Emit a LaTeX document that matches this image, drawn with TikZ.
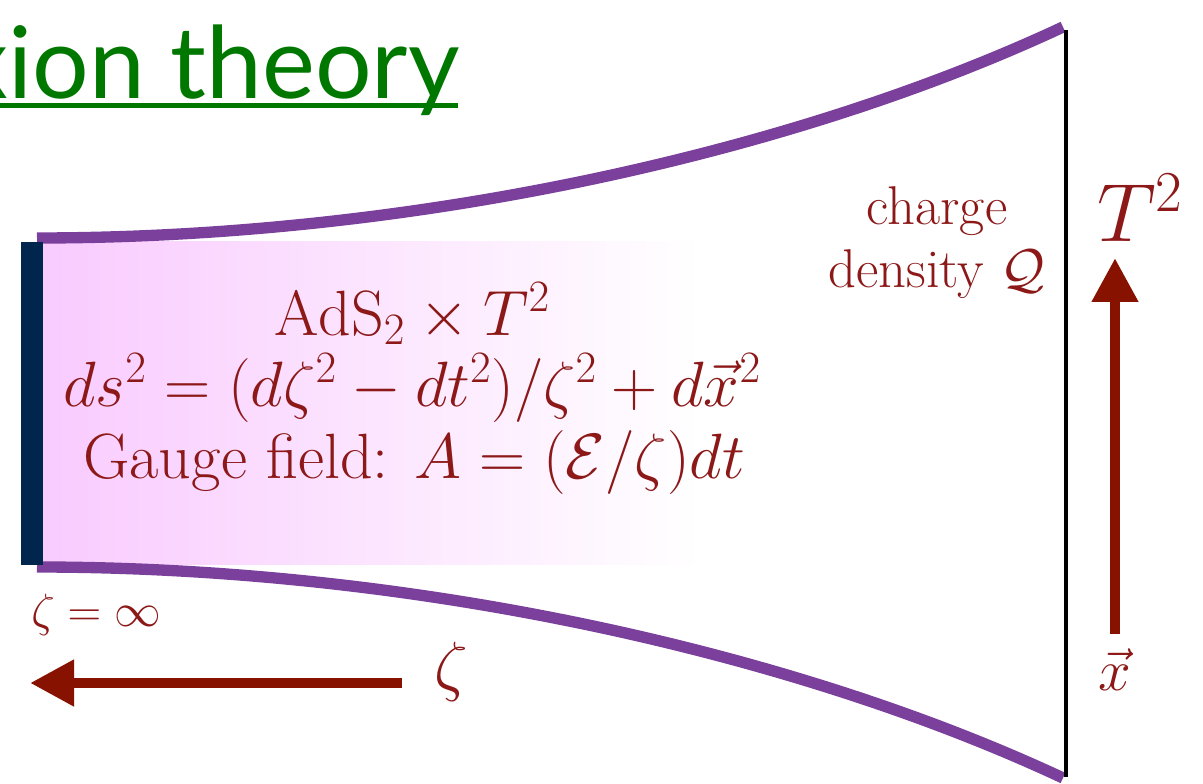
\RequirePackage{fix-cm}
\documentclass[tikz,border=0pt]{standalone}
\usepackage{fontspec}
\newfontfamily\titlefont{Lato}
\usetikzlibrary{arrows.meta}
\definecolor{ttlgreen}{RGB}{0,120,0}
\definecolor{txtred}{RGB}{140,24,24}
\definecolor{arrred}{RGB}{136,18,0}
\definecolor{brane}{RGB}{122,64,155}
\definecolor{navyblue}{RGB}{0,38,77}
\definecolor{pinkish}{RGB}{249,203,255}
\tikzset{
  redtxt/.style={text=txtred, inner sep=0pt, anchor=base},
  bulktxt/.style={redtxt, font=\fontsize{48}{55}\selectfont},
  bigarrow/.style={draw=arrred, line width=8pt, -{Triangle[length=33pt,width=33pt]}},
  branecurve/.style={draw=brane, line width=8.5pt},
}
\begin{document}
\begin{tikzpicture}[x=0.75pt,y=-0.75pt]
\useasboundingbox (0,0) rectangle (1203,784);
% bulk shading
\shade[left color=pinkish, right color=white] (43,242) rectangle (700,564);
% branes
\draw[branecurve] (37,238) .. controls (420,238) and (800,150) .. (1063,27);
\draw[branecurve] (37,567) .. controls (420,567) and (800,655) .. (1063,778);
% horizon bar
\fill[navyblue] (21,242) rectangle (43,565);
% boundary line
\draw[line width=3pt] (1066,30) -- (1066,777);
% title
\begin{scope}
\clip (0,0) rectangle (1203,784);
\node[text=ttlgreen, font=\titlefont\fontsize{75}{90}\selectfont, anchor=base east, inner sep=0pt] (title) at (460,99) {xion theory};
\draw[ttlgreen, line width=3.4pt] (0,105.5) -- (458,105.5);
\end{scope}
% bulk text
\node[bulktxt] (ads) at (412,335) {$\mathrm{AdS}_2\times T^2$};
\node[bulktxt] (metric) at (412,406) {$ds^2=(d\zeta^2-dt^2)/\zeta^2+d\vec{x}^2$};
\node[bulktxt] (gauge) at (414,478) {Gauge field: $A=(\mathcal{E}/\zeta)dt$};
% charge density
\node[redtxt, font=\fontsize{41}{49}\selectfont] (charge) at (937,225) {charge};
\node[redtxt, font=\fontsize{41}{49}\selectfont] (density) at (937,288) {density $\mathcal{Q}$};
% T^2 and x
\node[redtxt, font=\fontsize{62}{74}\selectfont] (T2) at (1140,242) {$T^2$};
\node[redtxt, font=\fontsize{44}{53}\selectfont] (xvec) at (1115,690) {$\vec{x}$};
% zeta labels
\node[redtxt, font=\fontsize{50}{60}\selectfont] (zeta) at (451,688) {$\zeta$};
\node[redtxt, font=\fontsize{35}{42}\selectfont, anchor=base west] (zinf) at (31,626) {$\zeta=\infty$};
% arrows
\coordinate (zstart) at (402,683);
\coordinate (zend) at (30,683);
\draw[bigarrow] (zstart) -- (zend);
\coordinate (xstart) at (1115,634);
\coordinate (xend) at (1115,258);
\draw[bigarrow] (xstart) -- (xend);
\end{tikzpicture}
\end{document}
